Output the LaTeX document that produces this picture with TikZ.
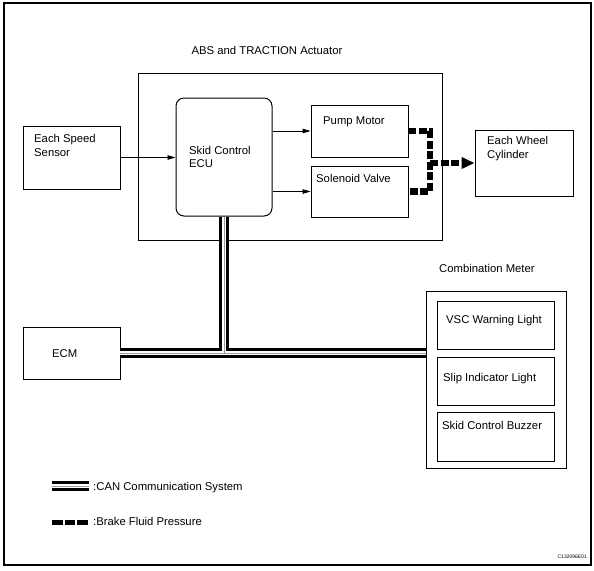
\documentclass[tikz,border=0pt]{standalone}
\usepackage{fontspec}
\setmainfont{Liberation Sans}
\usetikzlibrary{arrows.meta,fit}
\begin{document}
\begin{tikzpicture}[x=1pt,y=-1pt,
  box/.style={draw, line width=0.8pt, inner sep=0pt},
  lbl/.style={anchor=base west, inner sep=0pt, font=\fontsize{11.3}{13.6}\selectfont},
  arr/.style={line width=0.8pt, -{Triangle[length=8pt,width=4.5pt]}},
  brake/.style={line width=6.5pt, dash pattern=on 8pt off 2.5pt},
  brakeleg/.style={line width=5pt, dash pattern=on 10.5pt off 2pt},
  canout/.style={line width=10pt, black},
  canmid/.style={line width=4pt, white},
  cancore/.style={line width=0.7pt, black!40},
]
\useasboundingbox (0,0) rectangle (594,570);
\draw[line width=1.3pt] (4,3) rectangle (591,565);

% boxes
\node[box, fit={(138,73) (442,240)}] (act) {};
\node[box, rounded corners=8pt, line width=1pt, fit={(176,98) (272,216)}] (ecu) {};
\node[box, fit={(311,105) (408,157)}] (pump) {};
\node[box, fit={(311,166) (408,217)}] (sol) {};
\node[box, fit={(23,126) (120,189)}] (sensor) {};
\node[box, fit={(475,130) (573,196)}] (wheel) {};
\node[box, fit={(23,327) (120,379)}] (ecm) {};
\node[box, fit={(426,291) (566,468)}] (meter) {};
\node[box, fit={(437,301) (554,349)}] (vsc) {};
\node[box, fit={(437,357) (554,405)}] (slip) {};
\node[box, fit={(437,412) (554,461)}] (buzz) {};

% texts
\node[lbl, anchor=base] (tAct) at (267,54) {ABS and TRACTION Actuator};
\node[lbl] (tSensA) at (34,142) {Each Speed};
\node[lbl] (tSensB) at (34,156) {Sensor};
\node[lbl] (tEcuA) at (189,154) {Skid Control};
\node[lbl] (tEcuB) at (189,167.5) {ECU};
\node[lbl] (tPump) at (323,124) {Pump Motor};
\node[lbl] (tSol) at (316,182) {Solenoid Valve};
\node[lbl] (tWheelA) at (487,144.5) {Each Wheel};
\node[lbl] (tWheelB) at (487,158.5) {Cylinder};
\node[lbl] (tMeter) at (439,272) {Combination Meter};
\node[lbl] (tEcm) at (52,357) {ECM};
\node[lbl] (tVsc) at (446,323) {VSC Warning Light};
\node[lbl] (tSlip) at (443,381) {Slip Indicator Light};
\node[lbl] (tBuzz) at (442,429) {Skid Control Buzzer};
\node[lbl] (tCan) at (93,490) {:CAN Communication System};
\node[lbl] (tBrake) at (93,525.5) {:Brake Fluid Pressure};
\node[anchor=base east, inner sep=0pt, font=\fontsize{5}{6}\selectfont] (tCode) at (587,558) {C132096E01};

% signal arrows
\draw[arr] (sensor.east) -- (sensor.east -| ecu.west);
\draw[arr] (ecu.east |- pump) -- (pump.west);
\draw[arr] (ecu.east |- sol) -- (sol.west);

% brake fluid lines
\coordinate (bj) at (430,163);
\draw[brake] (pump.east) -- (pump.east -| bj) -- (sol.east -| bj) -- (sol.east);
\draw[brake, -{Triangle[length=13pt,width=11pt]}] (bj) -- (wheel.west);

% CAN lines
\coordinate (canj) at (ecu.south |- ecm.east);
\coordinate (canA) at (52,486);
\coordinate (canB) at (89,486);
\coordinate (brA) at (52,522);
\coordinate (brB) at (88,522);
\draw[canout] (ecu.south) -- (canj);
\draw[canout] (ecm.east) -- (ecm.east -| meter.west);
\draw[canout] (canA) -- (canB);
\draw[canmid] (ecu.south) -- (canj);
\draw[canmid] (ecm.east) -- (ecm.east -| meter.west);
\draw[canmid] (canA) -- (canB);
\draw[cancore] (ecu.south) -- (canj);
\draw[cancore] (ecm.east) -- (ecm.east -| meter.west);
\draw[cancore] (canA) -- (canB);

\draw[brakeleg] (brA) -- (brB);
\end{tikzpicture}
\end{document}
